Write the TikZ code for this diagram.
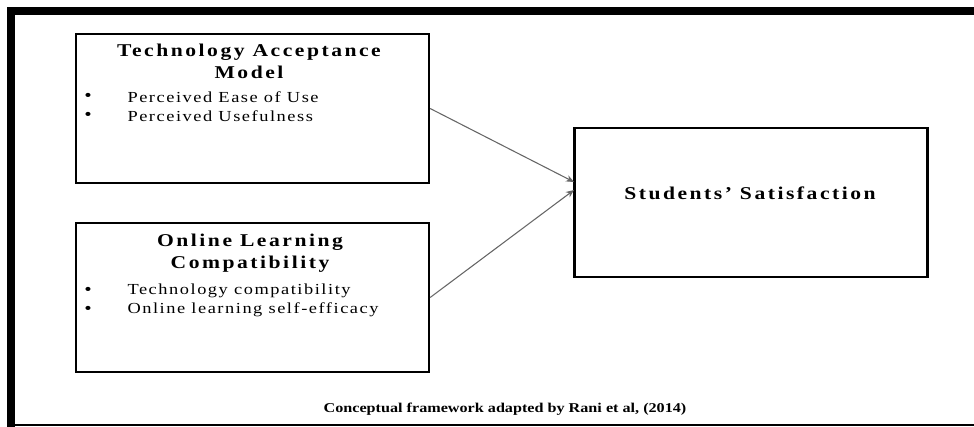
\documentclass[tikz,border=0pt]{standalone}
\usepackage{fontspec}
\setmainfont{Liberation Serif}[FakeStretch=1.2, LetterSpace=10]
\usetikzlibrary{arrows.meta}

\begin{document}
\begin{tikzpicture}[x=0.75pt, y=-0.75pt, -, thick,
  box node/.style={rectangle, draw, line width=1.7pt, minimum width=264.75pt, minimum height=111.75pt},
  title node/.style={align=center, font=\bfseries\fontsize{13.5}{16.5}\selectfont\addfontfeatures{LetterSpace=14}},
  item node/.style={anchor=west, inner sep=0pt, font=\fontsize{11.5}{14}\selectfont},
  dot node/.style={inner sep=0pt, font=\bfseries\fontsize{11.5}{14}\selectfont},
  link/.style={draw=black!60, line width=0.8pt, -{Stealth[length=6pt, width=5pt]}}]
  \useasboundingbox (0, 0) rectangle (974, 427);
  % outer frame
  \fill (7, 7) rectangle (974, 15);
  \fill (7, 7) rectangle (15, 427);
  \fill (7, 424) rectangle (974, 426);
  \node[box node] (tam) at (252.5, 108.5) {};
  \node[box node] (olc) at (252.5, 297.5) {};
  \node[box node] (sat) at (751, 202.5) {};
  \node[title node] (tamt) at (249, 61) {Technology Acceptance\\Model};
  \node[dot node] (tamd1) at (88, 97) {\textbullet};
  \node[dot node] (tamd2) at (88, 116) {\textbullet};
  \node[item node] (tam1) at (127, 97) {Perceived Ease of Use};
  \node[item node] (tam2) at (127, 116) {Perceived Usefulness};
  \node[title node] (olct) at (250, 253) {Online Learning\\Compatibility};
  \node[dot node] (olcd1) at (88, 291) {\textbullet};
  \node[dot node] (olcd2) at (88, 310) {\textbullet};
  \node[item node] (olc1) at (127, 291) {Technology compatibility};
  \node[item node] (olc2) at (127, 310) {Online learning self-efficacy};
  \node[title node] (satt) at (750, 193) {Students' Satisfaction};
  \node[font=\bfseries\fontsize{10.1}{13}\selectfont\addfontfeatures{LetterSpace=0}] (cap) at (505, 409) {Conceptual framework adapted by Rani et al, (2014)};
  \coordinate (in1) at (574, 182);
  \coordinate (in2) at (574, 190);
  \draw[link] (tam.east) -- (in1);
  \draw[link] (olc.east) -- (in2);
\end{tikzpicture}
\end{document}
